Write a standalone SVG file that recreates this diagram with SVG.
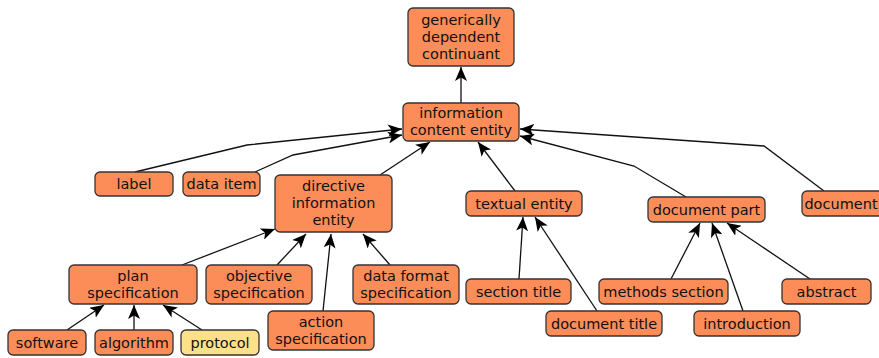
<svg xmlns="http://www.w3.org/2000/svg" width="879" height="358" viewBox="0 0 879 358">
<style>
.n rect{fill:#fc8d59;stroke:#333;stroke-width:1.3}
.n.y rect{fill:#fee08b}
.n text{font-family:"DejaVu Sans",sans-serif;font-size:14.5px;fill:#111;text-anchor:middle}
.e path{fill:none;stroke:#111;stroke-width:1.3;marker-end:url(#a)}
</style>
<defs>
<marker id="a" markerUnits="userSpaceOnUse" markerWidth="15" markerHeight="12" refX="14" refY="6" orient="auto">
<path d="M0,0 L14,6 L0,12 L3.5,6 z" fill="#000"/>
</marker>
</defs>
<g class="e">
<path d="M461,103 L461,67"/>
<path d="M135,172 L247,145 L402,129"/>
<path d="M255,172 L293,155 L402,135"/>
<path d="M380,175 L430,142"/>
<path d="M515,191 L478,142"/>
<path d="M686,197 L634,166 L520,136"/>
<path d="M824,191 L764,146 L520,129"/>
<path d="M182,265 L275,229"/>
<path d="M277,265 L306,234"/>
<path d="M323,311 L331,234"/>
<path d="M390,265 L363,234"/>
<path d="M519,279 L523,217"/>
<path d="M597,311 L535,217"/>
<path d="M671,279 L700,223"/>
<path d="M743,311 L712,223"/>
<path d="M810,279 L727,223"/>
<path d="M67,330 L104,305"/>
<path d="M134,330 L134,305"/>
<path d="M202,330 L163,305"/>
</g>
<g id="gdc" class="n"><rect x="408" y="8" width="106" height="58" rx="5"/><text x="461" y="25">generically</text><text x="461" y="42">dependent</text><text x="461" y="59">continuant</text></g>
<g id="ice" class="n"><rect x="403" y="103" width="116" height="38" rx="5"/><text x="461" y="118">information</text><text x="461" y="135">content entity</text></g>
<g id="label" class="n"><rect x="95" y="172" width="78" height="24" rx="5"/><text x="134" y="189">label</text></g>
<g id="dataitem" class="n"><rect x="183" y="172" width="77" height="24" rx="5"/><text x="221.5" y="189">data item</text></g>
<g id="die" class="n"><rect x="275" y="175" width="117" height="57" rx="5"/><text x="333.5" y="191">directive</text><text x="333.5" y="208">information</text><text x="333.5" y="225">entity</text></g>
<g id="textual" class="n"><rect x="466" y="191" width="116" height="25" rx="5"/><text x="524" y="209">textual entity</text></g>
<g id="docpart" class="n"><rect x="648" y="197" width="117" height="25" rx="5"/><text x="706.5" y="215">document part</text></g>
<g id="document" class="n"><rect x="802" y="191" width="82" height="25" rx="5"/><text x="841" y="209">document</text></g>
<g id="plan" class="n"><rect x="69" y="265" width="128" height="39" rx="5"/><text x="133" y="281">plan</text><text x="133" y="298">specification</text></g>
<g id="objective" class="n"><rect x="206" y="265" width="106" height="39" rx="5"/><text x="259" y="281">objective</text><text x="259" y="298">specification</text></g>
<g id="dataformat" class="n"><rect x="353" y="265" width="106" height="39" rx="5"/><text x="406" y="281">data format</text><text x="406" y="298">specification</text></g>
<g id="sectiontitle" class="n"><rect x="466" y="279" width="105" height="25" rx="5"/><text x="518.5" y="297">section title</text></g>
<g id="methods" class="n"><rect x="599" y="279" width="129" height="25" rx="5"/><text x="663.5" y="297">methods section</text></g>
<g id="abstract" class="n"><rect x="782" y="279" width="89" height="25" rx="5"/><text x="826.5" y="297">abstract</text></g>
<g id="action" class="n"><rect x="268" y="311" width="106" height="39" rx="5"/><text x="321" y="327">action</text><text x="321" y="344">specification</text></g>
<g id="doctitle" class="n"><rect x="546" y="311" width="116" height="25" rx="5"/><text x="604" y="329">document title</text></g>
<g id="intro" class="n"><rect x="694" y="311" width="106" height="25" rx="5"/><text x="747" y="329">introduction</text></g>
<g id="software" class="n"><rect x="8" y="330" width="78" height="25" rx="5"/><text x="47" y="348">software</text></g>
<g id="algorithm" class="n"><rect x="95" y="330" width="78" height="25" rx="5"/><text x="134" y="348">algorithm</text></g>
<g id="protocol" class="n y"><rect x="181" y="330" width="78" height="25" rx="5"/><text x="220" y="348">protocol</text></g>
</svg>
